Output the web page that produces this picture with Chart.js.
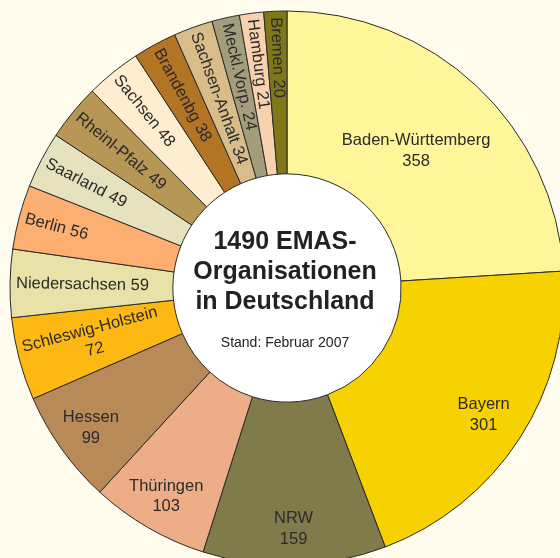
<!DOCTYPE html>
<html>
<head>
<meta charset="utf-8">
<script src="https://cdn.jsdelivr.net/npm/chart.js@4"></script>
<style>
  html, body { margin: 0; padding: 0; background: #fffcee; }
  #wrap { width: 560px; height: 558px; overflow: hidden; position: relative; background: #fffcee; }
  #emasChart { position: absolute; left: 0; top: 0; }
</style>
</head>
<body>
<div id="wrap"><canvas id="emasChart" width="574" height="576"></canvas></div>
<script>
// EMAS organisations per federal state, clockwise from 12 o'clock
const regions = ['Baden-Württemberg', 'Bayern', 'NRW', 'Thüringen', 'Hessen', 'Schleswig-Holstein',
  'Niedersachsen', 'Berlin', 'Saarland', 'Rheinl-Pfalz', 'Sachsen', 'Brandenbg',
  'Sachsen-Anhalt', 'Meckl.Vorp.', 'Hamburg', 'Bremen'];
const counts = [358, 301, 159, 103, 99, 72, 59, 56, 49, 49, 48, 38, 34, 24, 21, 20];
const centerTitle = ['1490 EMAS-', 'Organisationen', 'in Deutschland'];
const centerNote = 'Stand: Februar 2007';

const sliceColors = ['#fff599', '#f5d200', '#7f7b4b', '#edae87', '#b88a58', '#fdb813',
  '#e8e2a8', '#fdaf72', '#e6e2bd', '#b89655', '#feeecf', '#b37424',
  '#d8bd8a', '#a39d7b', '#f8d2ae', '#807719'];

const FONT = '"Liberation Sans", Arial, sans-serif';

const ringLabels = {
  id: 'ringLabels',
  beforeDatasetsDraw(chart) {
    const arc = chart.getDatasetMeta(0).data[0];
    const ctx = chart.ctx;
    ctx.save();
    ctx.beginPath();
    ctx.arc(arc.x, arc.y, arc.innerRadius, 0, Math.PI * 2);
    ctx.fillStyle = '#ffffff';
    ctx.fill();
    ctx.restore();
  },
  afterDatasetsDraw(chart) {
    const ctx = chart.ctx;
    const arcs = chart.getDatasetMeta(0).data;
    const total = counts.reduce((a, b) => a + b, 0);
    ctx.save();
    ctx.fillStyle = '#2b2b2b';
    ctx.font = '16.5px ' + FONT;
    ctx.textBaseline = 'middle';
    ctx.textAlign = 'center';

    arcs.forEach((a, i) => {
      const mid = (a.startAngle + a.endAngle) / 2;
      const value = counts[i];
      const radial = value < 80;
      const lines = (!radial || regions[i].length > 15)
        ? [regions[i], String(value)]
        : [regions[i] + ' ' + value];
      const gap = 20.5;

      if (radial) {
        // text runs from the outer edge towards the centre
        const w = Math.max(...lines.map(l => ctx.measureText(l).width));
        const r = a.outerRadius - 6 - w / 2;
        ctx.save();
        ctx.translate(a.x + Math.cos(mid) * r, a.y + Math.sin(mid) * r);
        ctx.rotate(mid + Math.PI);
        lines.forEach((l, k) => {
          ctx.fillText(l, 0, (k - (lines.length - 1) / 2) * gap);
        });
        ctx.restore();
      } else {
        const share = value / total;
        let r = a.outerRadius * 0.87;
        if (share > 0.22) r = a.outerRadius * 0.68;
        else if (share > 0.18) r = a.outerRadius * 0.845;
        const x = a.x + Math.cos(mid) * r;
        const y = a.y + Math.sin(mid) * r;
        lines.forEach((l, k) => {
          ctx.fillText(l, x, y + (k - (lines.length - 1) / 2) * gap);
        });
      }
    });

    // centre caption
    const c = arcs[0];
    ctx.fillStyle = '#222222';
    ctx.textBaseline = 'alphabetic';
    ctx.font = 'bold 25px ' + FONT;
    centerTitle.forEach((t, k) => {
      ctx.fillText(t, c.x - 2, c.y - 39 + k * 30);
    });
    ctx.font = '14px ' + FONT;
    ctx.fillText(centerNote, c.x - 2, c.y + 59);
    ctx.restore();
  }
};

new Chart(document.getElementById('emasChart'), {
  type: 'doughnut',
  data: {
    labels: regions,
    datasets: [{
      data: counts,
      backgroundColor: sliceColors,
      borderColor: '#2a2a2a',
      borderWidth: 1,
      hoverOffset: 0,
      offset: 0
    }]
  },
  options: {
    responsive: false,
    animation: false,
    cutout: '41.2%',
    layout: {
      padding: { left: 9.5, right: 9.5, top: 10.5, bottom: 10.5 }
    },
    plugins: {
      legend: { display: false },
      tooltip: { enabled: false }
    }
  },
  plugins: [ringLabels]
});
</script>
</body>
</html>
